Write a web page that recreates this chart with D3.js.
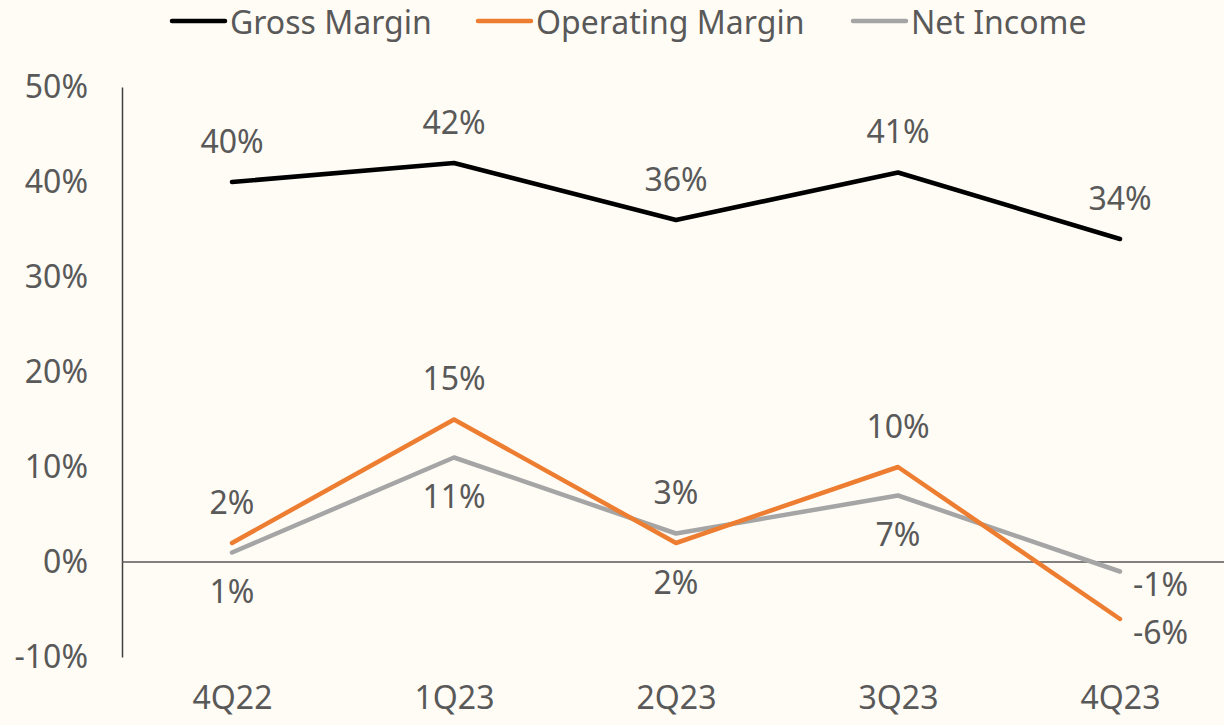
<!DOCTYPE html>
<html>

<head>
    <meta charset="utf-8">
    <script src="https://d3js.org/d3.v7.min.js"></script>
    <style>
        body {
            margin: 0;
            background: #fffcf5;
        }

        svg text {
            font-family: "Noto Sans", "Open Sans", sans-serif;
            fill: #595959;
        }
    </style>
</head>

<body>
    <svg width="1224" height="725"></svg>
    <script>
        // quarters on the x axis
        var quarters = ['4Q22', '1Q23', '2Q23', '3Q23', '4Q23']

        // values in percent
        var grossMargin = [40, 42, 36, 41, 34]
        var operatingMargin = [2, 15, 2, 10, -6]
        var netIncome = [1, 11, 3, 7, -1]

        // where each data label sits
        var grossLabelPos = ['above', 'above', 'above', 'above', 'above']
        var operatingLabelPos = ['above', 'above', 'below', 'above', 'right']
        var netLabelPos = ['below', 'below', 'above', 'below', 'right']

        var yTicks = [-10, 0, 10, 20, 30, 40, 50]

        var series = [
            { name: 'Gross Margin', values: grossMargin, pos: grossLabelPos, color: '#000000' },
            { name: 'Operating Margin', values: operatingMargin, pos: operatingLabelPos, color: '#ed7d31' },
            { name: 'Net Income', values: netIncome, pos: netLabelPos, color: '#a5a5a5' }
        ]

        var svg = d3.select('svg')
        var fontSize = 32

        var x = d3.scalePoint()
            .domain(quarters)
            .range([232, 1120])

        var y = d3.scaleLinear()
            .domain([-10, 50])
            .range([657, 87])

        // y axis labels
        var yAxis = d3.axisLeft(y)
            .tickValues(yTicks)
            .tickFormat(function(d) { return d + '%' })
            .tickSize(0)
            .tickPadding(34)
        var gy = svg.append('g')
            .attr('transform', 'translate(122,0)')
            .call(yAxis)
        gy.select('.domain').attr('stroke', '#404040').attr('stroke-width', 1.5)
        gy.selectAll('text')
            .style('font-size', fontSize + 'px')
            .attr('fill', '#595959')

        // x axis labels
        var xAxis = d3.axisBottom(x).tickSize(0).tickPadding(0)
        var gx = svg.append('g')
            .attr('transform', 'translate(0,' + 680 + ')')
            .call(xAxis)
        gx.select('.domain').remove()
        gx.selectAll('text')
            .style('font-size', fontSize + 'px')
            .attr('fill', '#595959')
            .attr('dy', '0.92em')

        // zero line
        svg.append('line')
            .attr('x1', 122)
            .attr('x2', 1224)
            .attr('y1', y(0))
            .attr('y2', y(0))
            .attr('stroke', '#595959')
            .attr('stroke-width', 1.5)

        var line = d3.line()
            .x(function(d, i) { return x(quarters[i]) })
            .y(function(d) { return y(d) })

        // draw net first so orange and black end up on top
        series.slice().reverse().forEach(function(s) {
            svg.append('path')
                .datum(s.values)
                .attr('d', line)
                .attr('fill', 'none')
                .attr('stroke', s.color)
                .attr('stroke-width', 4.5)
                .attr('stroke-linecap', 'round')
                .attr('stroke-linejoin', 'round')
        })

        // data labels
        series.forEach(function(s) {
            svg.selectAll(null)
                .data(s.values)
                .enter()
                .append('text')
                .style('font-size', fontSize + 'px')
                .attr('text-anchor', function(d, i) { return s.pos[i] == 'right' ? 'start' : 'middle' })
                .attr('dominant-baseline', 'central')
                .attr('x', function(d, i) {
                    var px = x(quarters[i])
                    return s.pos[i] == 'right' ? px + 13 : px
                })
                .attr('y', function(d, i) {
                    var py = y(d)
                    if (s.pos[i] == 'above') return py - 42
                    if (s.pos[i] == 'below') return py + 38
                    return py + 12
                })
                .text(function(d) { return d + '%' })
        })

        // legend
        var legendX = [172, 478, 853]
        var legend = svg.selectAll('g.legend')
            .data(series)
            .enter()
            .append('g')
            .classed('legend', true)
            .attr('transform', function(d, i) { return 'translate(' + legendX[i] + ',21)' })
        legend.append('line')
            .attr('x1', 0)
            .attr('x2', 53)
            .attr('stroke', function(d) { return d.color })
            .attr('stroke-width', 4.5)
            .attr('stroke-linecap', 'round')
        legend.append('text')
            .attr('x', 58)
            .attr('dominant-baseline', 'central')
            .style('font-size', fontSize + 'px')
            .text(function(d) { return d.name })
    </script>
</body>

</html>
